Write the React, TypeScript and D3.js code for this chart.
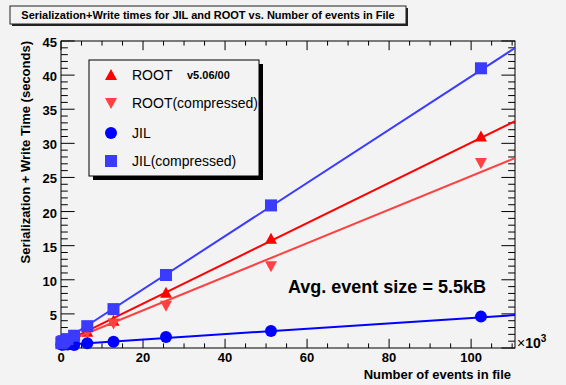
import * as d3 from "d3";

const WIDTH = 566;
const HEIGHT = 385;
const FRAME = { left: 61, right: 515, top: 41, bottom: 348 };
const FONT = "'Liberation Sans', Arial, Helvetica, sans-serif";
const BG = "#f3f3f3";

// number of events (x 10^3)
const nEvents = [0.1, 0.2, 0.4, 0.8, 1.6, 3.2, 6.4, 12.8, 25.6, 51.2, 102.4];
// serialization + write time (seconds)
const rootTimes = [0.9, 1.0, 1.0, 1.1, 1.2, 1.5, 2.4, 4.0, 8.1, 16.0, 31.0];
const rootCompTimes = [1.0, 1.0, 1.1, 1.1, 1.3, 1.6, 2.3, 3.6, 6.2, 12.0, 27.1];
const jilTimes = [0.5, 0.5, 0.5, 0.5, 0.5, 0.45, 0.7, 0.9, 1.6, 2.5, 4.6];
const jilCompTimes = [0.7, 0.8, 0.9, 1.0, 1.3, 1.8, 3.2, 5.7, 10.7, 20.9, 41.0];

// pol1 fit results
const fitIntercepts = [0.6, 0.6, 0.45, 0.8];
const fitSlopes = [0.295, 0.246, 0.0395, 0.39];

const seriesNames = ["ROOT", "ROOT(compressed)", "JIL", "JIL(compressed)"];
const seriesColors = ["#ff0000", "#ff4141", "#0000ff", "#3b3bff"];
const seriesMarkers = ["triUp", "triDown", "circle", "square"];
const seriesValues = [rootTimes, rootCompTimes, jilTimes, jilCompTimes];

const xTicks = [0, 20, 40, 60, 80, 100];
const yTicks = [5, 10, 15, 20, 25, 30, 35, 40, 45];

function Marker({ kind, x, y, color }: { kind: string; x: number; y: number; color: string }) {
  if (kind === "circle") return <circle cx={x} cy={y} r={6} fill={color} />;
  if (kind === "square") return <rect x={x - 6} y={y - 6} width={12} height={12} fill={color} />;
  const pts =
    kind === "triUp"
      ? [[x - 6, y + 5], [x + 6, y + 5], [x, y - 6]]
      : [[x - 6, y - 5], [x + 6, y - 5], [x, y + 6]];
  return <polygon points={pts.map((p) => p.join(",")).join(" ")} fill={color} />;
}

export default function App() {
  const xScale = d3.scaleLinear().domain([0, 110.7]).range([FRAME.left, FRAME.right]);
  const yScale = d3.scaleLinear().domain([0, 45]).range([FRAME.bottom, FRAME.top]);
  const fw = FRAME.right - FRAME.left;
  const fh = FRAME.bottom - FRAME.top;
  // ROOT style tick lengths: 3% of the other axis
  const xMajor = 0.03 * fh;
  const yMajor = 0.03 * fw;

  const xMinor = d3.range(0, 110.7, 5);
  const yMinor = d3.range(0, 45.01, 1);

  const series = seriesValues.map((vals, s) => {
    const a = fitIntercepts[s];
    const b = fitSlopes[s];
    const xs = [nEvents[0], xScale.domain()[1]];
    const line = d3
      .line<number>()
      .x((d) => xScale(d))
      .y((d) => yScale(a + b * d));
    return (
      <g key={s}>
        <path d={line(xs) ?? ""} stroke={seriesColors[s]} strokeWidth={2} fill="none" />
        {vals.map((v, i) => (
          <Marker key={i} kind={seriesMarkers[s]} x={xScale(nEvents[i])} y={yScale(v)} color={seriesColors[s]} />
        ))}
      </g>
    );
  });

  const legendX = 89;
  const legendY = 60;
  const legendW = 170;
  const legendH = 116;
  const legendRows = [75, 103, 133, 161];

  return (
    <svg
      width={WIDTH}
      height={HEIGHT}
      style={{ position: "absolute", left: 0, top: 0, background: BG }}
      fontFamily={FONT}
    >
      <rect x={0} y={0} width={WIDTH} height={HEIGHT} fill={BG} />

      {/* title box */}
      <rect x={12} y={8} width={396} height={18} fill="#222" />
      <rect x={10} y={6} width={396} height={18} fill={BG} stroke="#222" strokeWidth={1} />
      <text x={208} y={19} textAnchor="middle" fontSize={11} fontWeight="bold">
        Serialization+Write times for JIL and ROOT vs. Number of events in File
      </text>

      {/* frame */}
      <rect x={FRAME.left} y={FRAME.top} width={fw} height={fh} fill={BG} stroke="#000" strokeWidth={1} />

      {/* ticks on all four sides */}
      <g stroke="#000" strokeWidth={1}>
        {xMinor.map((t, i) => {
          const len = t % 20 === 0 ? xMajor : xMajor / 2;
          const x = xScale(t);
          return (
            <g key={i}>
              <line x1={x} x2={x} y1={FRAME.bottom} y2={FRAME.bottom - len} />
              <line x1={x} x2={x} y1={FRAME.top} y2={FRAME.top + len} />
            </g>
          );
        })}
        {yMinor.map((t, i) => {
          const len = t % 5 === 0 ? yMajor : yMajor / 2;
          const y = yScale(t);
          return (
            <g key={i}>
              <line x1={FRAME.left} x2={FRAME.left + len} y1={y} y2={y} />
              <line x1={FRAME.right} x2={FRAME.right - len} y1={y} y2={y} />
            </g>
          );
        })}
      </g>

      {/* tick labels */}
      <g fontSize={13} fontWeight="bold">
        {xTicks.map((t) => (
          <text key={t} x={xScale(t)} y={361.5} textAnchor="middle">
            {t}
          </text>
        ))}
        {yTicks.map((t) => (
          <text key={t} x={57} y={yScale(t) + 6} textAnchor="end">
            {t}
          </text>
        ))}
      </g>
      <text x={517} y={348} fontSize={14}>
        ×<tspan fontWeight="bold">10</tspan>
        <tspan fontWeight="bold" fontSize={10} dy={-6}>
          3
        </tspan>
      </text>

      {/* axis titles */}
      <text x={511} y={379} textAnchor="end" fontSize={13} fontWeight="bold">
        Number of events in file
      </text>
      <text
        transform={`translate(30,${FRAME.top}) rotate(-90)`}
        textAnchor="end"
        fontSize={13}
        fontWeight="bold"
      >
        Serialization + Write Time (seconds)
      </text>

      {series}

      <text x={288} y={293} fontSize={18} fontWeight="bold">
        Avg. event size = 5.5kB
      </text>

      {/* legend */}
      <rect x={legendX + 4} y={legendY + 4} width={legendW} height={legendH} fill="#000" />
      <rect x={legendX} y={legendY} width={legendW} height={legendH} fill={BG} stroke="#000" strokeWidth={1} />
      {seriesNames.map((name, s) => (
        <g key={name}>
          <Marker kind={seriesMarkers[s]} x={111} y={legendRows[s]} color={seriesColors[s]} />
          <text x={132} y={legendRows[s] + 5} fontSize={14}>
            {name}
          </text>
        </g>
      ))}
      <text x={187} y={legendRows[0] + 4} fontSize={11} fontWeight="bold">
        v5.06/00
      </text>
    </svg>
  );
}
